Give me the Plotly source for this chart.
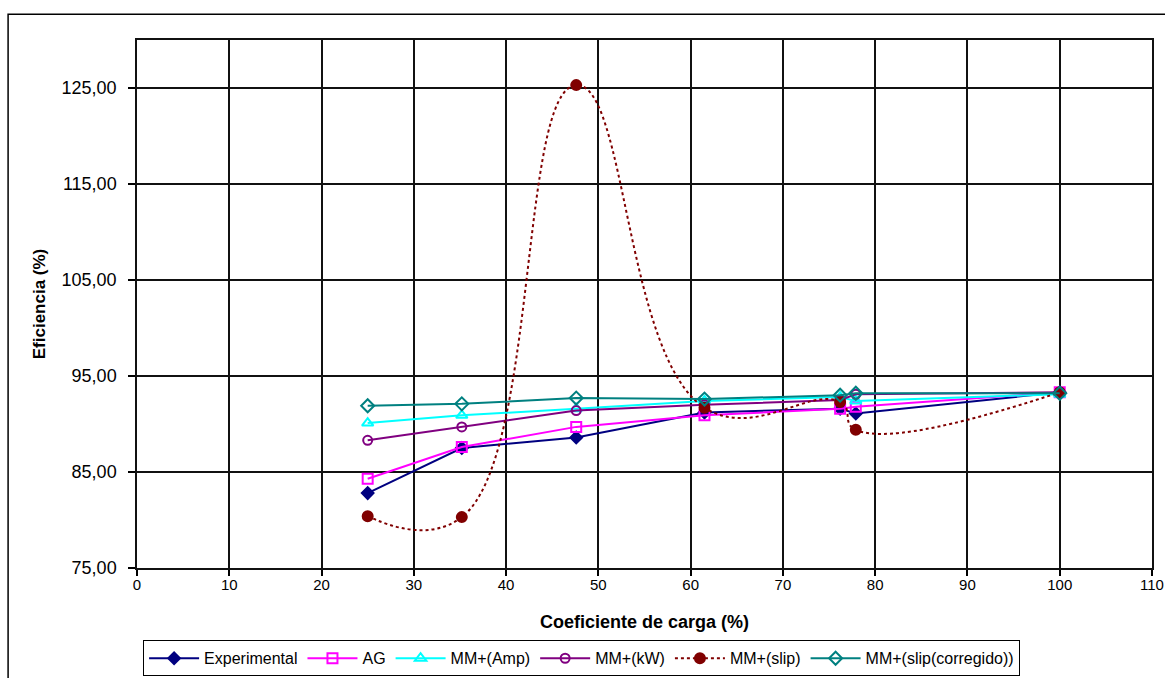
import plotly.graph_objects as go

carga = [25.0, 35.2, 47.6, 61.5, 76.2, 77.9, 100.0]
experimental = [82.8, 87.5, 88.6, 91.2, 91.6, 91.1, 93.3]
ag = [84.3, 87.6, 89.7, 90.9, 91.6, 91.8, 93.3]
mm_amp = [90.1, 90.9, 91.6, 92.4, 92.8, 92.4, 93.1]
mm_kw = [88.3, 89.7, 91.4, 92.0, 92.5, 93.1, 93.3]
mm_slip = [80.4, 80.3, 125.3, 91.7, 92.3, 89.4, 93.3]
mm_slip_corr = [91.9, 92.1, 92.7, 92.6, 93.0, 93.2, 93.2]

y_ticks = [75, 85, 95, 105, 115, 125]
y_tick_labels = ["75,00", "85,00", "95,00", "105,00", "115,00", "125,00"]
x_ticks = list(range(0, 111, 10))

FONT = "Liberation Sans, Arial, sans-serif"

fig = go.Figure()

series = [
    ("Experimental", experimental, "#000080", "diamond", 9, "solid", "linear"),
    ("AG", ag, "#FF00FF", "square-open", 10, "solid", "linear"),
    ("MM+(Amp)", mm_amp, "#00FFFF", "triangle-up-open", 10, "solid", "linear"),
    ("MM+(kW)", mm_kw, "#800080", "circle-open", 9, "solid", "linear"),
    ("MM+(slip)", mm_slip, "#800000", "circle", 10, "dot", "spline"),
    ("MM+(slip(corregido))", mm_slip_corr, "#008080", "diamond-open", 10, "solid", "linear"),
]

for name, ys, color, sym, size, dash, shape in series:
    fig.add_trace(go.Scatter(
        x=carga, y=ys, name=name, mode="lines+markers",
        line=dict(color=color, width=2, dash=dash, shape=shape, smoothing=1.3),
        marker=dict(symbol=sym, size=size, color=color, line=dict(color=color, width=2)),
    ))

fig.update_layout(
    width=1165, height=678,
    margin=dict(l=137, r=13, t=40, b=110, autoexpand=False),
    paper_bgcolor="white", plot_bgcolor="white",
    font=dict(family=FONT, size=14, color="black"),
    showlegend=True,
    legend=dict(
        orientation="h", x=0.006, y=-0.137, xanchor="left", yanchor="top",
        bordercolor="black", borderwidth=1, bgcolor="white",
        font=dict(family=FONT, size=16, color="black"),
        itemwidth=50, tracegroupgap=0,
    ),
    xaxis=dict(
        range=[0, 110], tickvals=x_ticks, ticktext=[str(v) for v in x_ticks],
        showgrid=True, gridcolor="#111111", gridwidth=1.5,
        showline=True, linecolor="#111111", linewidth=1.5, mirror=True,
        ticks="outside", ticklen=6, tickcolor="black", tickwidth=1.5,
        ticklabelstandoff=-4,
        zeroline=False, automargin=False,
        tickfont=dict(family=FONT, size=15),
        title=dict(text="<b>Coeficiente de carga (%)</b>", font=dict(family=FONT, size=18), standoff=24),
    ),
    yaxis=dict(
        range=[75, 130], tickvals=y_ticks, ticktext=y_tick_labels,
        showgrid=True, gridcolor="#111111", gridwidth=1.5,
        showline=True, linecolor="#111111", linewidth=1.5, mirror=True,
        ticks="outside", ticklen=7, tickcolor="black", tickwidth=1.5,
        ticklabelstandoff=8,
        zeroline=False, automargin=False,
        tickfont=dict(family=FONT, size=18),
        title=dict(text="<b>Eficiencia (%)</b>", font=dict(family=FONT, size=17), standoff=12),
    ),
)

fig.add_shape(type="rect", xref="paper", yref="paper",
              x0=-0.127, y0=-0.3, x1=1.05, y1=1.049,
              line=dict(color="black", width=1.5), fillcolor="rgba(0,0,0,0)", layer="below")

fig.write_html("out.html")
